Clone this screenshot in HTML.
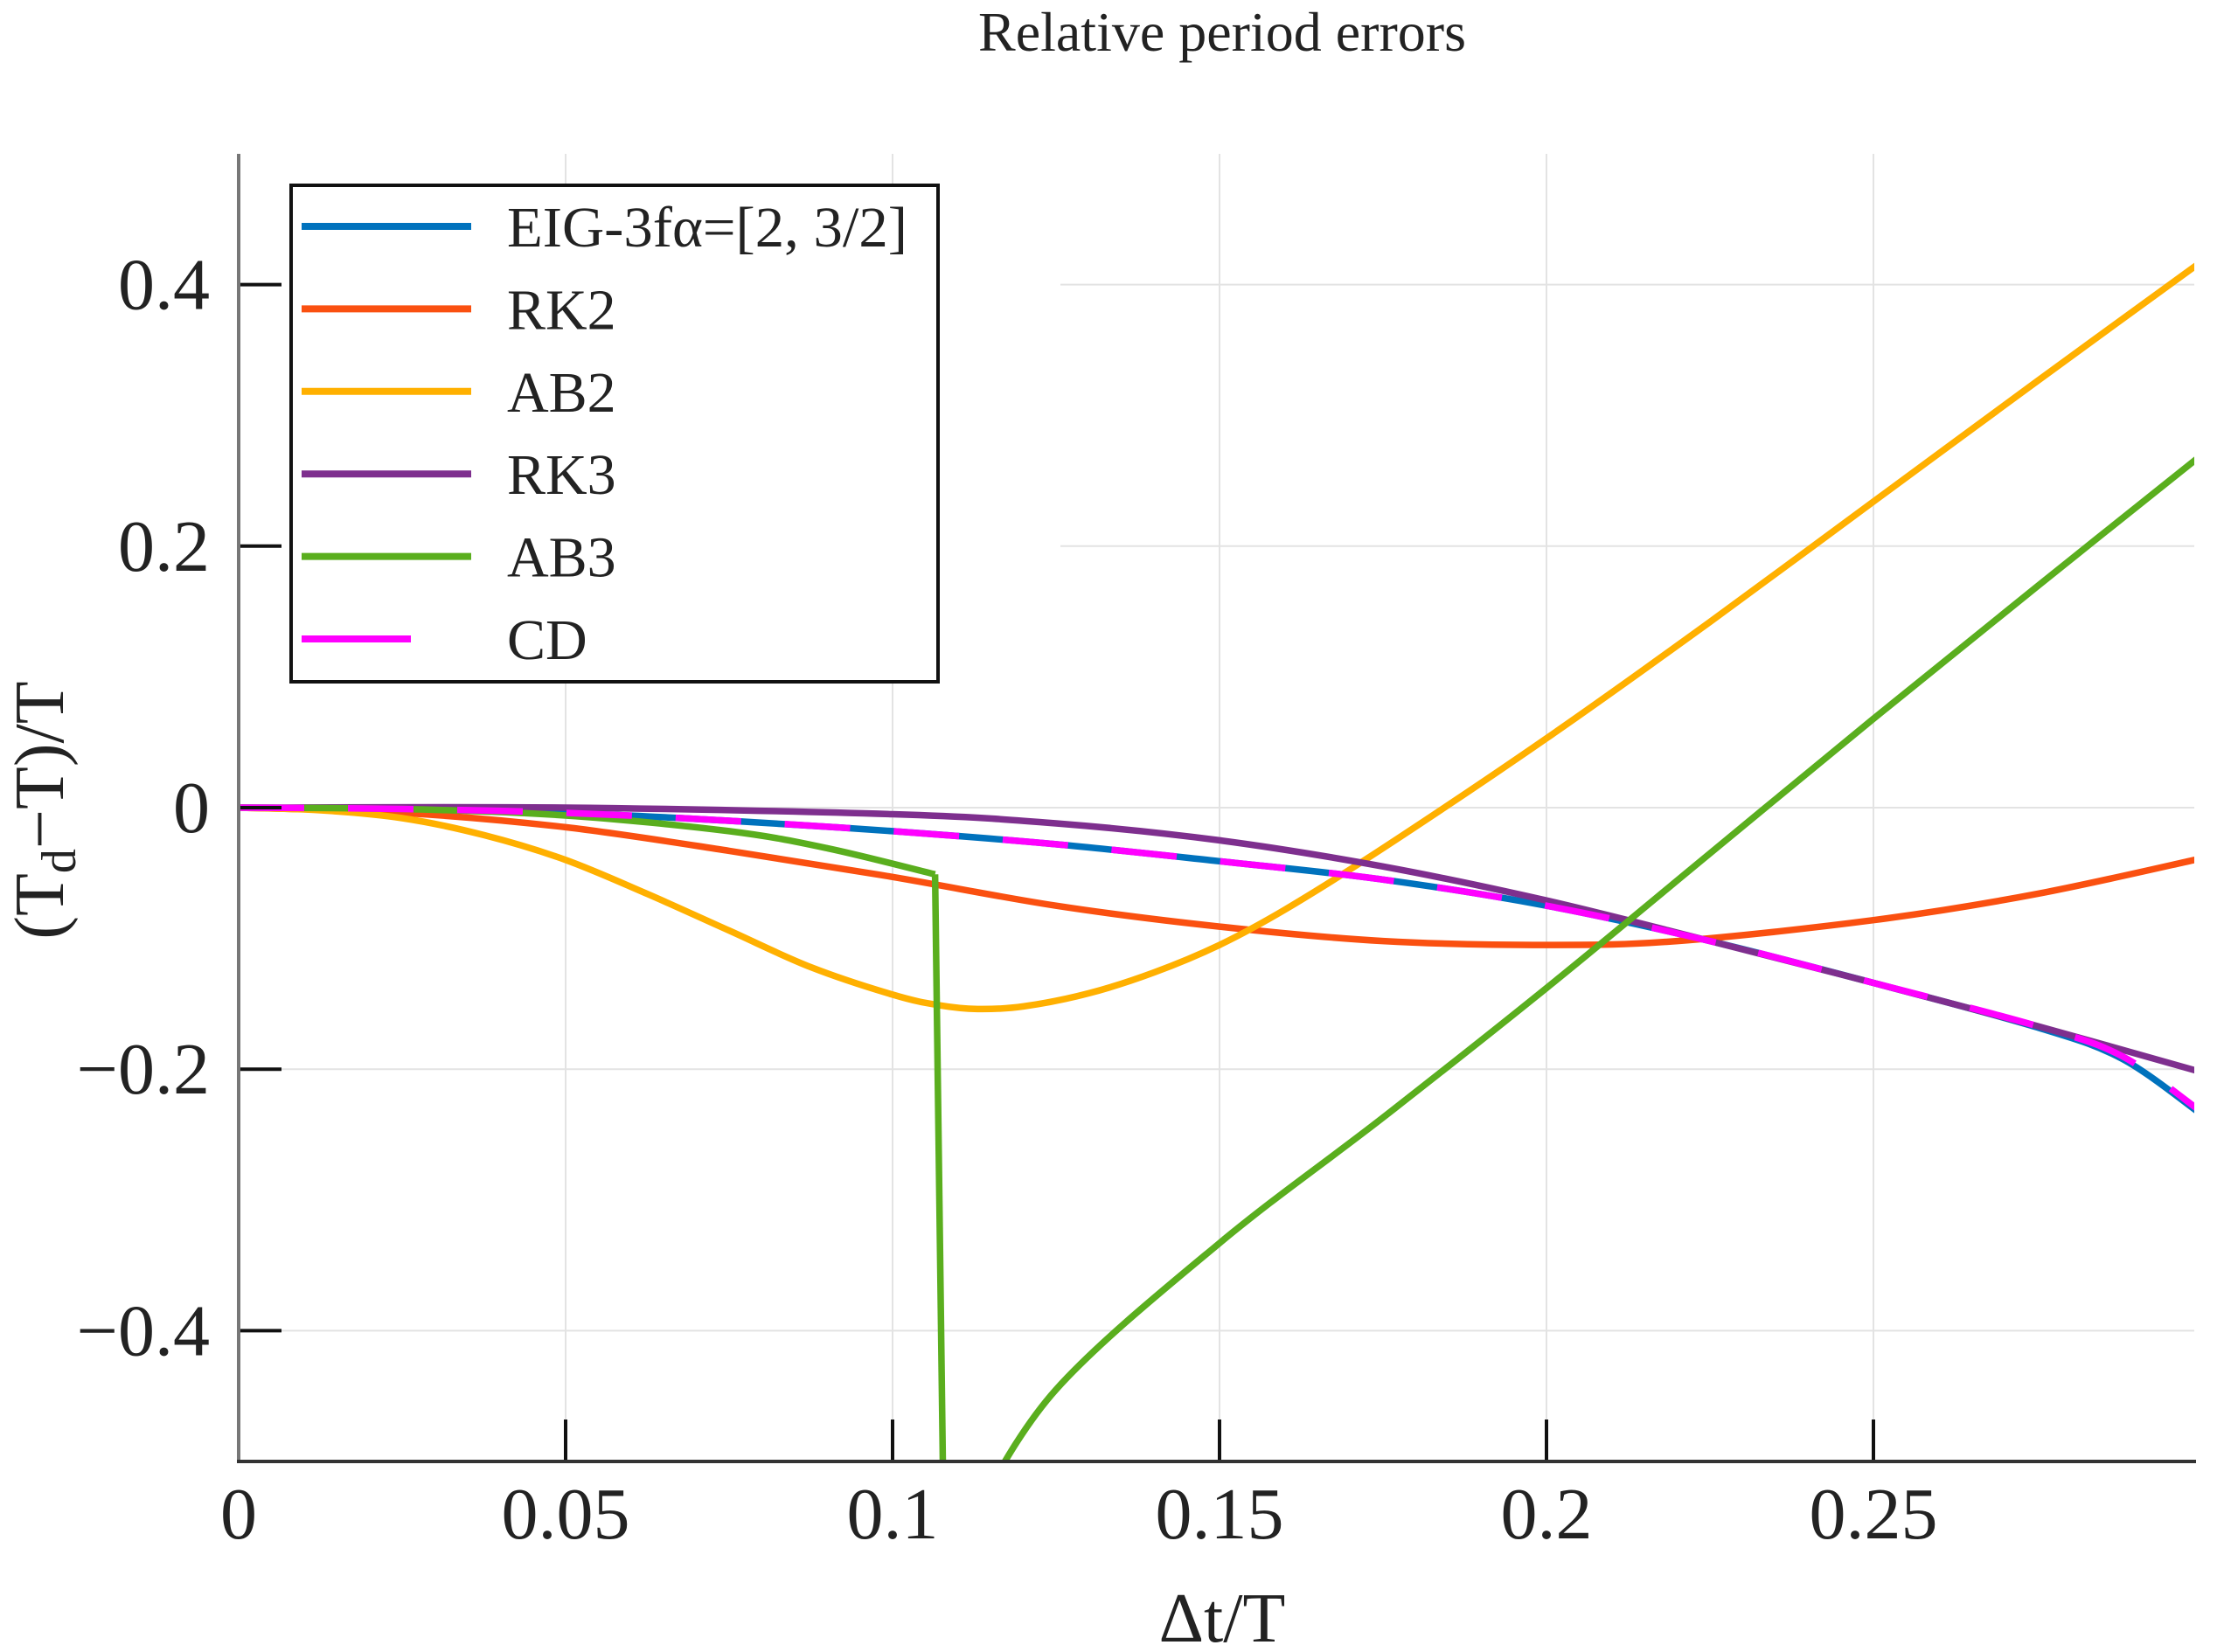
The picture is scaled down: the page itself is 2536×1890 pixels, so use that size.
<!DOCTYPE html>
<html><head><meta charset="utf-8"><style>
html,body{margin:0;padding:0;background:#fff;}
svg{display:block;font-family:"Liberation Serif",serif;}
</style></head><body>
<svg id="chart" width="2536" height="1890" viewBox="0 0 2536 1890">
<defs><clipPath id="plotclip"><rect x="273" y="176" width="2237" height="1496"/></clipPath></defs>
<text x="1398" y="58" font-size="64" text-anchor="middle" fill="#222">Relative period errors</text>
<g id="grid"></g>
<g id="series" clip-path="url(#plotclip)"></g>
<g id="axes"></g>
<text x="1398" y="1878" font-size="80" text-anchor="middle" fill="#222">Δt/T</text>
<text transform="translate(72,927) rotate(-90)" font-size="80" text-anchor="middle" fill="#222">(T<tspan font-size="56" dy="14">d</tspan><tspan dy="-14">−T)/T</tspan></text>
<g id="legend"></g>
</svg>
<script>
const xTicks=[0,0.05,0.1,0.15,0.2,0.25];
const xTickLabels=["0","0.05","0.1","0.15","0.2","0.25"];
const yTicks=[0.4,0.2,0,-0.2,-0.4];
const yTickLabels=["0.4","0.2","0","\u22120.2","\u22120.4"];
const seriesNames=["EIG-3fα=[2, 3/2]","RK2","AB2","RK3","AB3","CD"];
const seriesColors=["#0072BD","#FA5010","#FFB000","#7E2F8E","#5AAE1E","#FF00FF"];
const xEIG=[0,0.025,0.05,0.075,0.1,0.125,0.15,0.175,0.2,0.225,0.25,0.275,0.288,0.3];
const yEIG=[0,-0.001,-0.004,-0.010,-0.018,-0.028,-0.041,-0.055,-0.075,-0.102,-0.134,-0.168,-0.192,-0.234];
const xRK2=[0,0.025,0.05,0.075,0.1,0.125,0.15,0.175,0.2,0.22,0.25,0.275,0.3];
const yRK2=[0,-0.004,-0.015,-0.033,-0.053,-0.075,-0.091,-0.102,-0.105,-0.102,-0.086,-0.066,-0.039];
const xAB2=[0,0.0125,0.025,0.0375,0.05,0.0625,0.075,0.0875,0.1,0.107,0.113,0.12,0.13,0.14,0.15,0.16,0.175,0.2,0.225,0.25,0.275,0.3];
const yAB2=[0,-0.002,-0.008,-0.021,-0.040,-0.066,-0.094,-0.122,-0.143,-0.151,-0.154,-0.152,-0.142,-0.126,-0.105,-0.078,-0.031,0.053,0.142,0.234,0.326,0.417];
const xRK3=[0,0.05,0.1,0.125,0.15,0.175,0.2,0.225,0.25,0.275,0.3];
const yRK3=[0,0,-0.005,-0.012,-0.025,-0.045,-0.071,-0.102,-0.134,-0.167,-0.202];
const xAB3a=[0,0.025,0.05,0.075,0.09,0.1065,0.108];
const yAB3a=[0,-0.001,-0.006,-0.018,-0.031,-0.051,-0.62];
const xAB3b=[0.112,0.125,0.15,0.175,0.2,0.225,0.25,0.275,0.3];
const yAB3b=[-0.545,-0.445,-0.333,-0.237,-0.138,-0.035,0.068,0.169,0.269];
const xCD=xEIG.slice();
const yCD=[0,-0.001,-0.004,-0.010,-0.018,-0.028,-0.041,-0.055,-0.075,-0.102,-0.134,-0.167,-0.190,-0.232];

const NS="http://www.w3.org/2000/svg";
const X0=273,XPER=7480,Y0=924,YPER=1496;
function sx(v){return X0+v*XPER;}
function sy(v){return Y0-v*YPER;}
function mk(tag,parent){const e=document.createElementNS(NS,tag);parent.appendChild(e);return e;}
const grid=document.getElementById('grid'),axes=document.getElementById('axes'),series=document.getElementById('series'),legend=document.getElementById('legend');

xTicks.forEach((t,i)=>{
 if(t>0){const g=mk('line',grid);
 
 
 g.setAttribute('x1',sx(t));g.setAttribute('x2',sx(t));g.setAttribute('y1',176);g.setAttribute('y2',1672);g.setAttribute('stroke','#e3e3e3');g.setAttribute('stroke-width',2);}
 const tk=mk('line',axes);
 
 
 tk.setAttribute('x1',sx(t));tk.setAttribute('x2',sx(t));tk.setAttribute('y1',1672);tk.setAttribute('y2',1624);tk.setAttribute('stroke','#111');tk.setAttribute('stroke-width',4);
 const lb=mk('text',axes);
 
 
 lb.setAttribute('x',sx(t));lb.setAttribute('y',1760);lb.setAttribute('font-size',84);lb.setAttribute('text-anchor','middle');lb.setAttribute('fill','#222');lb.textContent=xTickLabels[i];
});
yTicks.forEach((t,i)=>{
 const g=mk('line',grid);
 
 
 g.setAttribute('x1',t>0.1?1213:273);g.setAttribute('x2',2510);g.setAttribute('y1',sy(t));g.setAttribute('y2',sy(t));g.setAttribute('stroke','#e3e3e3');g.setAttribute('stroke-width',2);
 const tk=mk('line',axes);
 
 
 tk.setAttribute('x1',273);tk.setAttribute('x2',322);tk.setAttribute('y1',sy(t));tk.setAttribute('y2',sy(t));tk.setAttribute('stroke','#111');tk.setAttribute('stroke-width',4);
 const lb=mk('text',axes);
 
 
 lb.setAttribute('x',240);lb.setAttribute('y',sy(t)+28);lb.setAttribute('font-size',84);lb.setAttribute('text-anchor','end');lb.setAttribute('fill','#222');lb.textContent=yTickLabels[i];
});
const ya=mk('line',axes);


ya.setAttribute('x1',273);ya.setAttribute('x2',273);ya.setAttribute('y1',176);ya.setAttribute('y2',1674);ya.setAttribute('stroke','#777');ya.setAttribute('stroke-width',4);
const xa=mk('line',axes);


xa.setAttribute('x1',271);xa.setAttribute('x2',2512);xa.setAttribute('y1',1672);xa.setAttribute('y2',1672);xa.setAttribute('stroke','#333');xa.setAttribute('stroke-width',4);

function pathD(xs,ys){
 const p=xs.map((x,i)=>[sx(x),sy(ys[i])]);
 let d='M'+p[0][0]+','+p[0][1];
 for(let i=0;i<p.length-1;i++){
  const a=p[Math.max(i-1,0)],b=p[i],c=p[i+1],e=p[Math.min(i+2,p.length-1)];
  const c1=[b[0]+(c[0]-a[0])/6,b[1]+(c[1]-a[1])/6],c2=[c[0]-(e[0]-b[0])/6,c[1]-(e[1]-b[1])/6];
  d+=' C'+c1[0].toFixed(1)+','+c1[1].toFixed(1)+' '+c2[0].toFixed(1)+','+c2[1].toFixed(1)+' '+c[0].toFixed(1)+','+c[1].toFixed(1);
 }
 return d;
}
function addLine(xs,ys,color,name,dash,lin){
 const e=mk('path',series);
 
 
 let d;
 if(lin){d='M'+xs.map((x,i)=>sx(x)+','+sy(ys[i])).join(' L');}else d=pathD(xs,ys);
 e.setAttribute('d',d);e.setAttribute('fill','none');e.setAttribute('stroke',color);e.setAttribute('stroke-width',7.5);e.setAttribute('stroke-linejoin','round');
 if(dash)e.setAttribute('stroke-dasharray',dash);
}
addLine(xEIG,yEIG,seriesColors[0],'eig-line');
addLine(xRK2,yRK2,seriesColors[1],'rk2-line');
addLine(xAB2,yAB2,seriesColors[2],'ab2-line');
addLine(xRK3,yRK3,seriesColors[3],'rk3-line');
addLine(xAB3a.slice(0,6),yAB3a.slice(0,6),seriesColors[4],'ab3-line-branch1');
addLine(xAB3a.slice(5),yAB3a.slice(5),seriesColors[4],'ab3-line-drop',null,true);
addLine(xAB3b,yAB3b,seriesColors[4],'ab3-line-branch2');
addLine(xCD,yCD,seriesColors[5],'cd-line','75 50');

const box=mk('rect',legend);


box.setAttribute('x',333);box.setAttribute('y',212);box.setAttribute('width',740);box.setAttribute('height',568);box.setAttribute('fill','#fff');box.setAttribute('stroke','#111');box.setAttribute('stroke-width',4);
seriesNames.forEach((n,i)=>{
 const y=259+i*94.4;
 const l=mk('line',legend);
 
 
 l.setAttribute('x1',345);l.setAttribute('x2',i===5?470:539);l.setAttribute('y1',y);l.setAttribute('y2',y);l.setAttribute('stroke',seriesColors[i]);l.setAttribute('stroke-width',8);
 const t=mk('text',legend);
 
 
 t.setAttribute('x',580);t.setAttribute('y',y+23);t.setAttribute('font-size',66);t.setAttribute('fill','#222');
 if(i===0){t.setAttribute('textLength',458);t.setAttribute('lengthAdjust','spacingAndGlyphs');}
 t.textContent=n;
});
</script>
</body></html>
